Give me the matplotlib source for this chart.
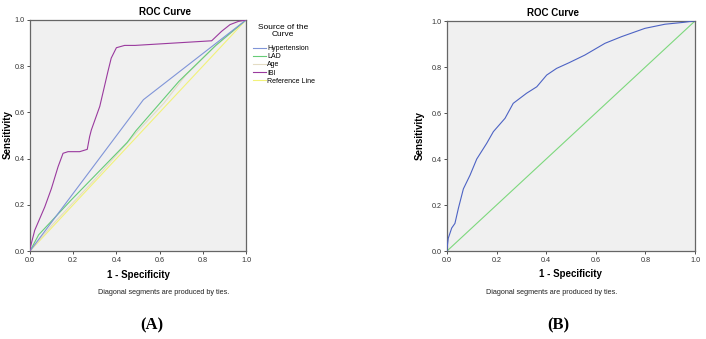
import matplotlib
matplotlib.use("Agg")
import matplotlib.pyplot as plt

# panel A: ROC curves (1 - specificity, sensitivity)
hyp_x = [0.0, 0.525, 1.0]
hyp_y = [0.0, 0.655, 1.0]

lad_x = [0.0, 0.04, 0.19, 0.45, 0.49, 0.69, 0.86, 1.0]
lad_y = [0.0, 0.07, 0.22, 0.47, 0.52, 0.735, 0.89, 1.0]

age_x = [0.0, 0.1, 0.3, 0.5, 0.62, 0.72, 0.85, 1.0]
age_y = [0.0, 0.11, 0.31, 0.52, 0.64, 0.76, 0.88, 1.0]

ibi_x = [0.0, 0.0, 0.022, 0.068, 0.099, 0.13, 0.153, 0.176, 0.23, 0.265, 0.276,
         0.284, 0.323, 0.361, 0.376, 0.40, 0.438, 0.486, 0.841, 0.887, 0.926, 0.965, 1.0]
ibi_y = [0.0, 0.01, 0.09, 0.19, 0.27, 0.365, 0.423, 0.43, 0.43, 0.44, 0.495,
         0.524, 0.626, 0.778, 0.835, 0.88, 0.89, 0.89, 0.91, 0.951, 0.98, 0.994, 1.0]

ref_x = [0.0, 1.0]
ref_y = [0.0, 1.0]

# panel B: single ROC curve
roc_x = [0.0, 0.0, 0.005, 0.019, 0.032, 0.046, 0.066, 0.093, 0.12, 0.16, 0.187,
         0.234, 0.267, 0.321, 0.362, 0.402, 0.442, 0.493, 0.556, 0.637, 0.704,
         0.798, 0.879, 0.953, 0.993, 1.0]
roc_y = [0.0, 0.01, 0.055, 0.10, 0.12, 0.186, 0.27, 0.33, 0.40, 0.468, 0.519,
         0.577, 0.642, 0.686, 0.714, 0.765, 0.794, 0.819, 0.852, 0.903, 0.932,
         0.968, 0.986, 0.994, 1.0, 1.0]

ticks = [0.0, 0.2, 0.4, 0.6, 0.8, 1.0]
tick_labels = ["0.0", "0.2", "0.4", "0.6", "0.8", "1.0"]

W, H = 706, 339
plt.rcParams["font.family"] = ["Liberation Sans", "DejaVu Sans"]
fig = plt.figure(figsize=(W / 100, H / 100), dpi=100)


def px(x, y):
    return x / W, 1 - y / H


def style_axes(ax):
    ax.set_facecolor("#f0f0f0")
    ax.set_xlim(0, 1)
    ax.set_ylim(0, 1)
    ax.set_xticks(ticks)
    ax.set_yticks(ticks)
    ax.set_xticklabels(tick_labels)
    ax.set_yticklabels(tick_labels)
    ax.tick_params(length=2.5, width=0.6, pad=1.5, labelsize=5.2, colors="#333333")
    for s in ax.spines.values():
        s.set_color("#666666")
        s.set_linewidth(0.9)


def add_texts(title_xy, xlabel_xy, ylabel_xy, note_xy, tag_xy, tag):
    fig.text(*px(*title_xy), "ROC Curve", ha="center", va="center",
             fontsize=7, fontweight="bold")
    fig.text(*px(*xlabel_xy), "1 - Specificity", ha="center", va="center",
             fontsize=7, fontweight="bold")
    fig.text(*px(*ylabel_xy), "Sensitivity", ha="center", va="center",
             fontsize=7, fontweight="bold", rotation=90)
    fig.text(*px(*note_xy), "Diagonal segments are produced by ties.",
             ha="center", va="center", fontsize=5.2, color="#222222")
    fig.text(*px(*tag_xy), tag, ha="center", va="center", fontsize=12,
             fontweight="bold", family="Liberation Serif")


# ---- panel A ----
ax_a = fig.add_axes([30 / W, 1 - 251 / H, 216 / W, 231 / H])
style_axes(ax_a)
lw = 0.8
ax_a.plot(ref_x, ref_y, color="#f2f27a", lw=lw, label="Reference Line", zorder=2)
ax_a.plot(age_x, age_y, color="#e4dcc4", lw=lw, label="Age", zorder=3)
ax_a.plot(lad_x, lad_y, color="#66cc77", lw=lw, label="LAD", zorder=4)
ax_a.plot(hyp_x, hyp_y, color="#8095d8", lw=lw, label="Hypertension", zorder=5)
ax_a.plot(ibi_x, ibi_y, color="#9a3a9e", lw=lw, label="IBI", zorder=6)

handles, labels = ax_a.get_legend_handles_labels()
order = ["Hypertension", "LAD", "Age", "IBI", "Reference Line"]
hmap = dict(zip(labels, handles))
fig.text(*px(283, 31), "Source of the\nCurve", ha="center", va="center",
         fontsize=6, linespacing=1.05)
fig.legend([hmap[k] for k in order], order, loc="upper left",
           bbox_to_anchor=px(253, 45), bbox_transform=fig.transFigure,
           frameon=False, fontsize=5,
           handlelength=1.8, handletextpad=0.2, labelspacing=0.17,
           borderpad=0.0, borderaxespad=0.0)

add_texts((165, 12), (138, 275), (8, 135), (164, 293), (152, 325), "(A)")

# ---- panel B ----
ax_b = fig.add_axes([447 / W, 1 - 251 / H, 248 / W, 230 / H])
style_axes(ax_b)
ax_b.plot(ref_x, ref_y, color="#7dd87d", lw=lw, zorder=2)
ax_b.plot(roc_x, roc_y, color="#4d63c4", lw=lw, zorder=3)

add_texts((553, 13), (570, 274), (420, 136), (552, 293), (558, 325), "(B)")

fig.savefig("out.png", dpi=100)
